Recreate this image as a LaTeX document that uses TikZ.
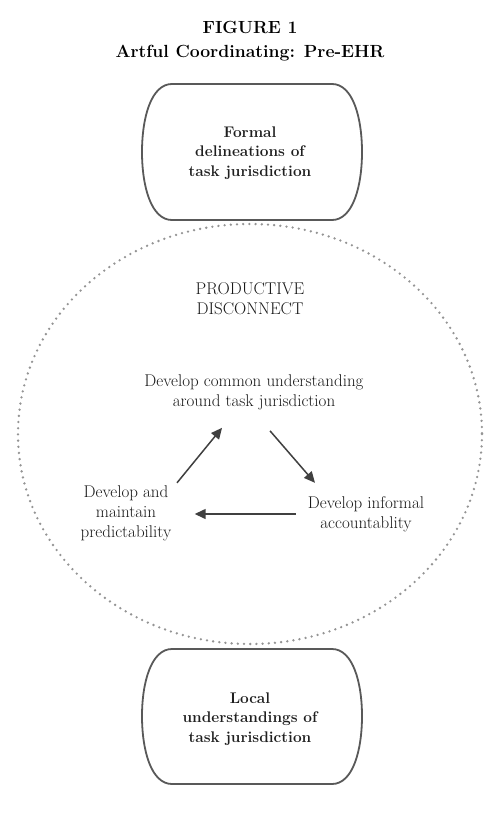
\documentclass[tikz,border=0pt]{standalone}
\usetikzlibrary{arrows.meta,calc}
\begin{document}
\begin{tikzpicture}[x=1pt,y=-1pt,
  txt/.style={align=center,inner sep=1pt,font=\fontsize{17}{20}\selectfont,text=black!90},
  btxt/.style={align=center,inner sep=1pt,font=\fontsize{15.4}{19.8}\selectfont\bfseries,text=black!88},
  ttl/.style={align=center,inner sep=1pt,font=\fontsize{17.6}{24}\selectfont\bfseries},
  boxline/.style={draw=black!65,line width=1.8pt},
  dotline/.style={draw=black!42,line width=2.6pt,line cap=round,dash pattern=on 0pt off 6.2pt},
  arr/.style={draw=black!75,line width=1.5pt,-{Triangle[length=11pt,width=10pt]}}]
\useasboundingbox[fill=white] (0,0) rectangle (500,813);
% title
\node[ttl] (title) at (250,41) {FIGURE 1\\Artful Coordinating: Pre-EHR};
% dotted ellipse
\draw[dotline] (250,434) ellipse [x radius=232, y radius=210];
% top box
\draw[boxline] (172,84) -- (332,84) .. controls (353,84) and (362,118) .. (362,152)
  .. controls (362,186) and (353,220) .. (332,220) -- (172,220)
  .. controls (151,220) and (142,186) .. (142,152)
  .. controls (142,118) and (151,84) .. (172,84) -- cycle;
\node[btxt] (formal) at (250,153) {Formal\\delineations of\\task jurisdiction};
% bottom box
\draw[boxline] (172,649) -- (332,649) .. controls (353,649) and (362,683) .. (362,716)
  .. controls (362,750) and (353,784) .. (332,784) -- (172,784)
  .. controls (151,784) and (142,750) .. (142,716)
  .. controls (142,683) and (151,649) .. (172,649) -- cycle;
\node[btxt] (local) at (250,719) {Local\\understandings of\\task jurisdiction};
% inner texts
\node[txt] (pd) at (250,299) {PRODUCTIVE\\DISCONNECT};
\node[txt] (common) at (254,392) {Develop common understanding\\around task jurisdiction};
\node[txt] (pred) at (126,513) {Develop and\\maintain\\predictability};
\node[txt] (inf) at (366,514) {Develop informal\\accountablity};
% arrows
\draw[arr] ($(common.south)+(-77,72)$) -- ($(common.south)+(-32,17)$);
\draw[arr] ($(common.south)+(16,20)$) -- ($(common.south)+(61,72)$);
\draw[arr] ($(inf.west)+(-11,0)$) -- ($(inf.west)+(-112,0)$);
\end{tikzpicture}
\end{document}
